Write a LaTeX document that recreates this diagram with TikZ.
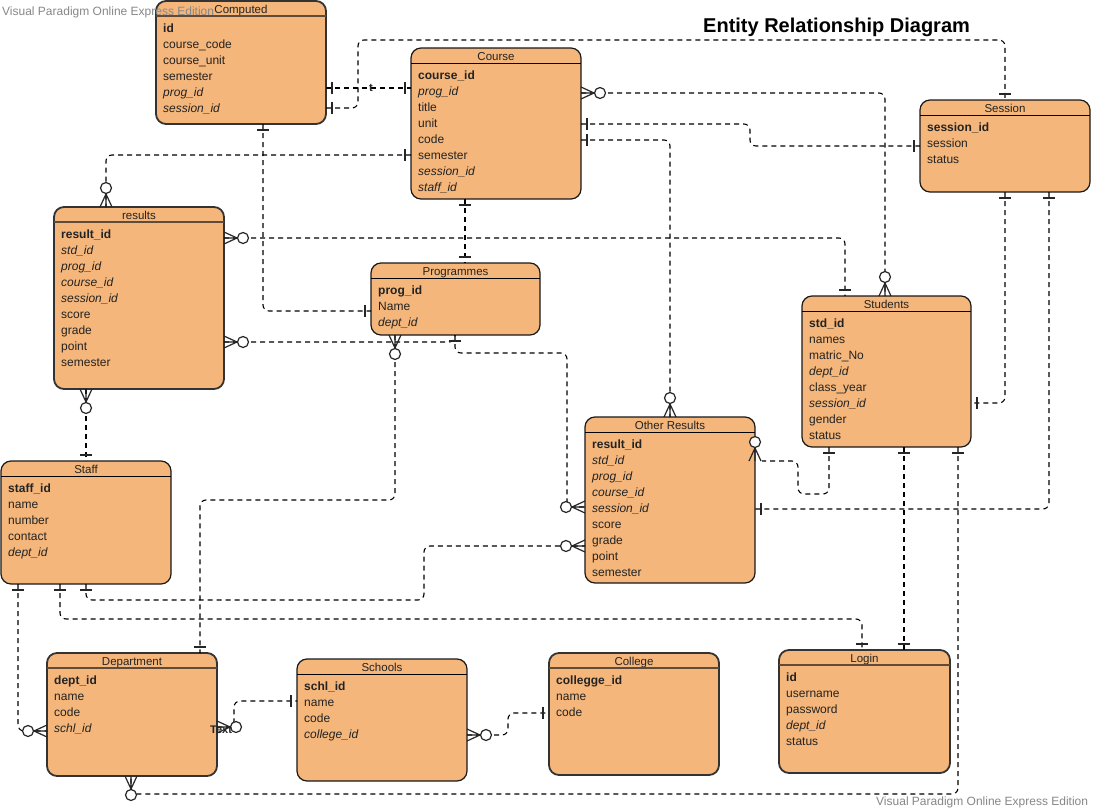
\documentclass[tikz,border=0pt]{standalone}
\usepackage{fontspec}
\setmainfont{Liberation Sans}
\usetikzlibrary{calc}
\definecolor{entfill}{RGB}{244,182,122}
\definecolor{txt}{RGB}{35,35,35}
\definecolor{wmgray}{RGB}{135,135,135}
\definecolor{brownline}{RGB}{95,75,55}
\tikzset{
  entA/.style={draw=black!80, line width=1.8pt, fill=entfill, rounded corners=10pt, inner sep=0pt, outer sep=0pt},
  entB/.style={draw=black!90, line width=1.2pt, fill=entfill, rounded corners=10pt, inner sep=0pt, outer sep=0pt},
  hlineA/.style={draw=brownline, line width=1.6pt},
  hlineB/.style={draw=black, line width=0.9pt},
  hdr/.style={anchor=base, font=\fontsize{11.5}{13}\selectfont, text=txt, inner sep=0pt},
  attr/.style={anchor=base west, font=\fontsize{12}{14}\selectfont, text=txt, inner sep=0pt},
  conn/.style={draw=black, line width=1.1pt, dash pattern=on 5pt off 4pt, rounded corners=6pt},
  mk/.style={draw=black!85, line width=1.2pt}
}
\newcommand\entity[8]{%
  \node[ent#6, minimum width=#4pt, minimum height=#5pt, anchor=north west] (#1) at (#2,#3) {};
  \node[hdr] (#1-title) at ($(#1.north)+(0,12)$) {#7};
  \draw[hline#6] ($(#1.north west)+(0,15)$) -- ($(#1.north east)+(0,15)$);
  \foreach \rowtext [count=\i] in {#8} \node[attr] (#1-\i) at ($(#1.north west)+(7,{15.5+16*\i})$) {\rowtext};
}
\newcommand\oneR[1]{\draw[mk,shift={#1}] (6,-6) -- (6,6);}
\newcommand\oneL[1]{\draw[mk,shift={#1}] (-6,-6) -- (-6,6);}
\newcommand\oneU[1]{\draw[mk,shift={#1}] (-6,-6) -- (6,-6);}
\newcommand\oneD[1]{\draw[mk,shift={#1}] (-6,6) -- (6,6);}
\newcommand\manyR[1]{\draw[mk,shift={#1}] (0,-6) -- (13,0) -- (0,6) (0,0) -- (13,0);
  \draw[mk,fill=white,shift={#1}] (19,0) circle (5.5pt);}
\newcommand\manyL[1]{\draw[mk,shift={#1}] (0,-6) -- (-13,0) -- (0,6) (0,0) -- (-13,0);
  \draw[mk,fill=white,shift={#1}] (-19,0) circle (5.5pt);}
\newcommand\manyU[1]{\draw[mk,shift={#1}] (-6,0) -- (0,-13) -- (6,0) (0,0) -- (0,-13);
  \draw[mk,fill=white,shift={#1}] (0,-19) circle (5.5pt);}
\newcommand\manyD[1]{\draw[mk,shift={#1}] (-6,0) -- (0,13) -- (6,0) (0,0) -- (0,13);
  \draw[mk,fill=white,shift={#1}] (0,19) circle (5.5pt);}
\begin{document}
\begin{tikzpicture}[x=1pt,y=-1pt]
\useasboundingbox (0,0) rectangle (1093,811);
\fill[white] (0,0) rectangle (1093,811);

% entities
\entity{computed}{156}{1}{170}{123}{A}{Computed}{{\bfseries id}, course\_code, course\_unit, semester, {\itshape prog\_id}, {\itshape session\_id}}
\entity{course}{411}{48}{170}{151}{B}{Course}{{\bfseries course\_id}, {\itshape prog\_id}, title, unit, code, semester, {\itshape session\_id}, {\itshape staff\_id}}
\entity{session}{920}{100}{170}{92}{B}{Session}{{\bfseries session\_id}, session, status}
\entity{students}{802}{296}{169}{151}{B}{Students}{{\bfseries std\_id}, names, matric\_No, {\itshape dept\_id}, class\_year, {\itshape session\_id}, gender, status}
\entity{results}{54}{207}{170}{182}{A}{results}{{\bfseries result\_id}, {\itshape std\_id}, {\itshape prog\_id}, {\itshape course\_id}, {\itshape session\_id}, score, grade, point, semester}
\entity{programmes}{371}{263}{169}{72}{B}{Programmes}{{\bfseries prog\_id}, Name, {\itshape dept\_id}}
\entity{other}{585}{417}{170}{166}{B}{Other Results}{{\bfseries result\_id}, {\itshape std\_id}, {\itshape prog\_id}, {\itshape course\_id}, {\itshape session\_id}, score, grade, point, semester}
\entity{staff}{1}{461}{170}{123}{B}{Staff}{{\bfseries staff\_id}, name, number, contact, {\itshape dept\_id}}
\entity{department}{47}{653}{170}{123}{A}{Department}{{\bfseries dept\_id}, name, code, {\itshape schl\_id}}
\entity{schools}{297}{659}{170}{122}{B}{Schools}{{\bfseries schl\_id}, name, code, {\itshape college\_id}}
\entity{college}{549}{653}{170}{122}{A}{College}{{\bfseries collegge\_id}, name, code}
\entity{login}{779}{650}{171}{123}{A}{Login}{{\bfseries id}, username, password, {\itshape dept\_id}, status}

\coordinate (orX) at ($(other.east |- 0,461)+(7,0)$);

% connectors
\draw[conn] (computed.east |- 0,88) -- (course.west |- 0,88);
\draw[conn] (computed.east |- 0,108) -| (358,40) -| (session.north -| 1005,0);
\draw[conn] (course.east |- 0,93) -| (students.north -| 885,0);
\draw[conn] (course.east |- 0,124) -| (750,146) -- (session.west |- 0,146);
\draw[conn] (course.east |- 0,140) -| (other.north -| 670,0);
\draw[conn] (course.west |- 0,155) -| (results.north -| 106,0);
\draw[conn] (computed.south -| 263,0) |- (programmes.west |- 0,311);
\draw[conn] (course.south -| 465,0) -- (programmes.north -| 465,0);
\draw[conn] (results.east |- 0,238) -| (students.north -| 845,0);
\draw[conn] (results.east |- 0,342) -| (programmes.south -| 455,0);
\draw[conn] (programmes.south -| 455,0) |- (567,353) |- (other.west |- 0,507);
\draw[conn] (programmes.south -| 395,0) |- (200,500) -- (department.north -| 200,0);
\draw[conn, line width=1.6pt] (results.south -| 86,0) -- (staff.north -| 86,0);
\draw[conn] (staff.south -| 18,0) |- (department.west |- 0,731);
\draw[conn] (staff.south -| 60,0) |- (862,619) -- (login.north -| 862,0);
\draw[conn] (staff.south -| 86,0) |- (424,600) |- (other.west |- 0,546);
\draw[conn] (students.south -| 829,0) |- (798,494) |- (orX);
\draw[conn] (students.south -| 904,0) -- (login.north -| 904,0);
\draw[conn] (students.south -| 958,0) |- (131,794) -- (department.south -| 131,0);
\draw[conn] (session.south -| 1005,0) |- (students.east |- 0,403);
\draw[conn] (session.south -| 1049,0) |- (other.east |- 0,509);
\draw[conn] (department.east |- 0,727) -| (234,701) -- (schools.west |- 0,701);
\draw[conn] (schools.east |- 0,735) -| (508,713) -- (college.west |- 0,713);

% markers
\oneR{(computed.east |- 0,88)} \oneL{(course.west |- 0,88)}
\oneR{(computed.east |- 0,108)} \oneU{(session.north -| 1005,0)}
\manyR{(course.east |- 0,93)} \manyU{(students.north -| 885,0)}
\oneR{(course.east |- 0,124)} \oneL{(session.west |- 0,146)}
\oneR{(course.east |- 0,140)} \manyU{(other.north -| 670,0)}
\oneL{(course.west |- 0,155)} \manyU{(results.north -| 106,0)}
\oneD{(computed.south -| 263,0)} \oneL{(programmes.west |- 0,311)}
\oneD{(course.south -| 465,0)} \oneU{(programmes.north -| 465,0)}
\manyR{(results.east |- 0,238)} \oneU{(students.north -| 845,0)}
\manyR{(results.east |- 0,342)} \oneD{(programmes.south -| 455,0)}
\manyL{(other.west |- 0,507)}
\manyD{(programmes.south -| 395,0)} \oneU{(department.north -| 200,0)}
\manyD{(results.south -| 86,0)} \oneU{(staff.north -| 86,0)}
\oneD{(staff.south -| 18,0)} \manyL{(department.west |- 0,731)}
\oneD{(staff.south -| 60,0)} \oneU{(login.north -| 862,0)}
\oneD{(staff.south -| 86,0)} \manyL{(other.west |- 0,546)}
\oneD{(students.south -| 829,0)} \manyU{(other.east |- 0,461)}
\oneD{(students.south -| 904,0)} \oneU{(login.north -| 904,0)}
\oneD{(students.south -| 958,0)} \manyD{(department.south -| 131,0)}
\oneD{(session.south -| 1005,0)} \oneR{(students.east |- 0,403)}
\oneD{(session.south -| 1049,0)} \oneR{(other.east |- 0,509)}
\manyR{(department.east |- 0,727)} \oneL{(schools.west |- 0,701)}
\manyR{(schools.east |- 0,735)} \oneL{(college.west |- 0,713)}

% labels
\node[font=\bfseries\fontsize{11}{12}\selectfont, text=txt, inner sep=0pt] (tmark) at (371,88) {t};
\node[anchor=base west, font=\bfseries\fontsize{11}{12}\selectfont, text=txt, inner sep=0pt] (textlbl) at (210,733) {Text};
\node[anchor=base west, font=\bfseries\fontsize{20}{24}\selectfont, text=black, inner sep=0pt] (title) at (703,32.5) {Entity Relationship Diagram};
\node[anchor=base west, font=\fontsize{12}{14}\selectfont, text=wmgray, inner sep=0pt] (wm1) at (2,16) {Visual Paradigm Online Express Edition};
\node[anchor=base west, font=\fontsize{12}{14}\selectfont, text=wmgray, inner sep=0pt] (wm2) at (876,805) {Visual Paradigm Online Express Edition};
\end{tikzpicture}
\end{document}
